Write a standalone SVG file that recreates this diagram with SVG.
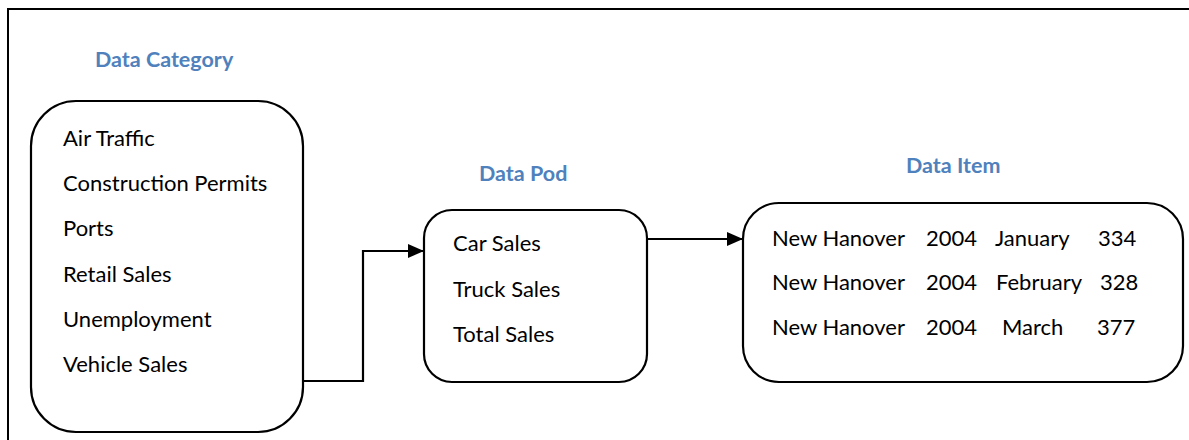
<svg xmlns="http://www.w3.org/2000/svg" width="1189" height="440" viewBox="0 0 1189 440">
  <style>
    .box { fill: #ffffff; stroke: #000000; stroke-width: 2.2; }
    .frame { fill: none; stroke: #000000; stroke-width: 2; }
    .title { font-family: Lato, "Open Sans", sans-serif; font-weight: bold; font-size: 21.5px; fill: #4F81BD; }
    .item { font-family: Lato, "Open Sans", sans-serif; font-size: 22px; fill: #000000; }
    .wire { fill: none; stroke: #000000; stroke-width: 2.2; }
  </style>
  <defs>
    <marker id="arrow" viewBox="0 0 10 10" refX="10" refY="5" markerWidth="7.5" markerHeight="6.5" markerUnits="strokeWidth" orient="auto" preserveAspectRatio="none">
      <path d="M0,0 L10,5 L0,10 z" fill="#000000"/>
    </marker>
  </defs>

  <rect width="1189" height="440" fill="#ffffff"/>
  <!-- outer frame, open on the right and bottom -->
  <rect class="frame" x="8" y="9" width="1200" height="450"/>

  <g id="connectors">
    <polyline class="wire" points="303,381 363,381 363,251 424,251" marker-end="url(#arrow)"/>
    <line class="wire" x1="647" y1="239" x2="743" y2="239" marker-end="url(#arrow)"/>
  </g>

  <g id="data-category">
    <text class="title" x="95" y="67">Data Category</text>
    <rect class="box" x="31" y="101" width="272" height="331" rx="45" ry="45"/>
    <text class="item" x="63" y="146">Air Traffic</text>
    <text class="item" x="63" y="191">Construction Permits</text>
    <text class="item" x="63" y="236">Ports</text>
    <text class="item" x="63" y="282">Retail Sales</text>
    <text class="item" x="63" y="327">Unemployment</text>
    <text class="item" x="63" y="372">Vehicle Sales</text>
  </g>

  <g id="data-pod">
    <text class="title" x="479" y="181">Data Pod</text>
    <rect class="box" x="424" y="210" width="223" height="172" rx="28" ry="28"/>
    <text class="item" x="453" y="251">Car Sales</text>
    <text class="item" x="453" y="297">Truck Sales</text>
    <text class="item" x="453" y="342">Total Sales</text>
  </g>

  <g id="data-item">
    <text class="title" x="906" y="173">Data Item</text>
    <rect class="box" x="743" y="203" width="440" height="179" rx="36" ry="36"/>
    <text class="item" x="772" y="246">New Hanover</text>
    <text class="item" x="926" y="246">2004</text>
    <text class="item" x="995" y="246">January</text>
    <text class="item" x="1098" y="246">334</text>
    <text class="item" x="772" y="290">New Hanover</text>
    <text class="item" x="926" y="290">2004</text>
    <text class="item" x="996" y="290">February</text>
    <text class="item" x="1100" y="290">328</text>
    <text class="item" x="772" y="335">New Hanover</text>
    <text class="item" x="926" y="335">2004</text>
    <text class="item" x="1002" y="335">March</text>
    <text class="item" x="1097" y="335">377</text>
  </g>
</svg>
